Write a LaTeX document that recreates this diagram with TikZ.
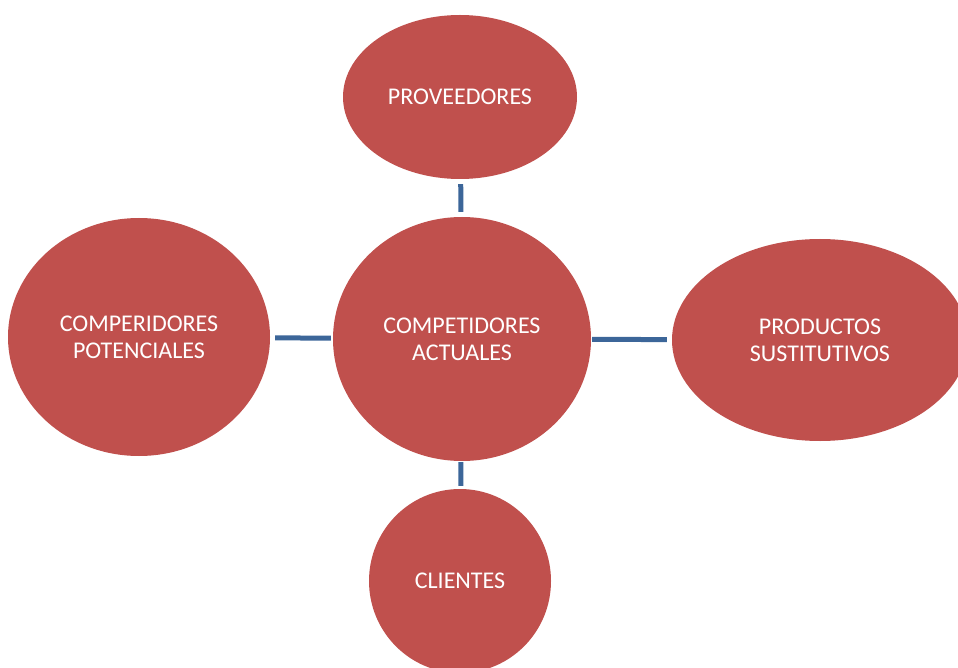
\documentclass[tikz,border=0pt]{standalone}
\usepackage{fontspec}
\setmainfont{Carlito}
\usetikzlibrary{shapes.geometric}

\definecolor{fuerza}{HTML}{C0504D}
\definecolor{enlace}{HTML}{3C6699}

\tikzset{
  fuerza/.style={ellipse,fill=fuerza,text=white,inner sep=0pt,align=center,
    font=\fontsize{24}{27}\selectfont},
  enlace/.style={line width=5pt,draw=enlace}
}

\begin{document}
\begin{tikzpicture}[x=1pt,y=-1pt]
      \useasboundingbox (0,0) rectangle (958,668);
      % las cinco fuerzas
      \node[fuerza,minimum width=258,minimum height=244] (actuales) at (462,339) {COMPETIDORES\\ACTUALES};
      \node[fuerza,minimum width=234,minimum height=164] (proveedores) at (460,97) {PROVEEDORES};
      \node[fuerza,minimum width=262,minimum height=238] (potenciales) at (139,337) {COMPERIDORES\\POTENCIALES};
      \node[fuerza,minimum width=296,minimum height=202] (sustitutos) at (820,340) {PRODUCTOS\\SUSTITUTIVOS};
      \node[fuerza,minimum width=182,minimum height=184] (clientes) at (460,581) {CLIENTES};
      % enlaces con el centro
      \draw[enlace,shorten <=5pt,shorten >=5pt] (proveedores) -- (actuales);
      \draw[enlace,shorten <=5pt,shorten >=2pt] (potenciales) -- (actuales);
      \draw[enlace,shorten <=1pt,shorten >=5pt] (actuales) -- (sustitutos);
      \draw[enlace,shorten <=1pt,shorten >=3pt] (actuales) -- (clientes);
\end{tikzpicture}
\end{document}
